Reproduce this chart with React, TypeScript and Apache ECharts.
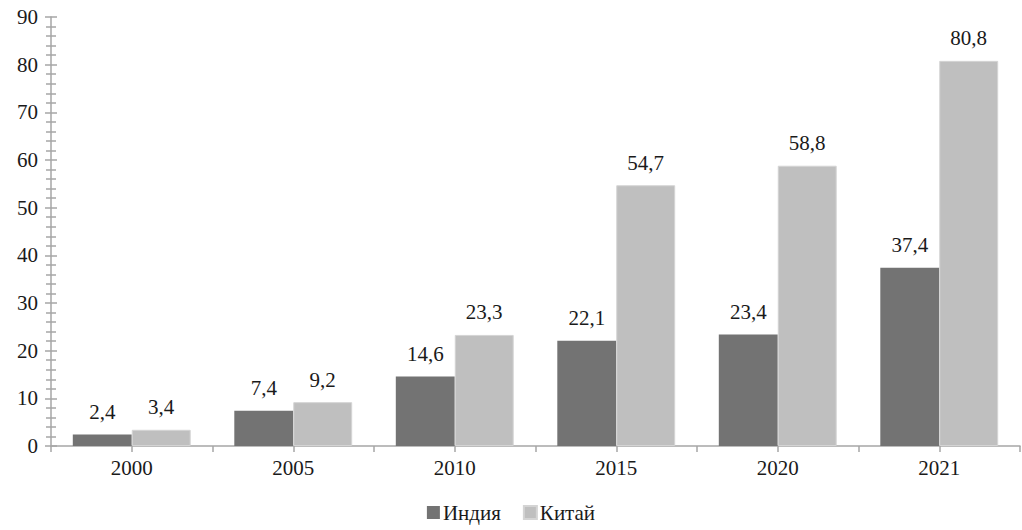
import React, { useEffect, useRef } from "react";
import * as echarts from "echarts";

const categories = ["2000", "2005", "2010", "2015", "2020", "2021"];
const india = [2.4, 7.4, 14.6, 22.1, 23.4, 37.4];
const china = [3.4, 9.2, 23.3, 54.7, 58.8, 80.8];
const seriesNames = ["Индия", "Китай"];

const FONT = "serif";
const FS = 21;

export default function App() {
  const ref = useRef<HTMLDivElement>(null);
  useEffect(() => {
    if (!ref.current) return;
    const chart = echarts.init(ref.current, null, { renderer: "svg" });
    const axisColor = "#a6a6a6";
    const labelFmt = (p: any) => String(p.value).replace(".", ",");
    chart.setOption({
      animation: false,
      backgroundColor: "#ffffff",
      textStyle: { fontFamily: FONT, fontSize: FS },
      grid: { left: 51, right: 2, top: 17, bottom: 84, containLabel: false },
      legend: {
        bottom: 2,
        left: "center",
        icon: "rect",
        itemWidth: 13,
        itemHeight: 13,
        itemGap: 22,
        textStyle: { fontFamily: FONT, fontSize: FS, color: "#1a1a1a", padding: [0, 0, 0, -2] },
        data: seriesNames,
      },
      xAxis: [
        {
          type: "category",
          data: categories,
          axisLine: { show: true, lineStyle: { color: axisColor, width: 1.5 } },
          axisTick: { show: false },
          axisLabel: { fontFamily: FONT, fontSize: FS, color: "#1a1a1a", margin: 11 },
        },
        {
          type: "value",
          min: 0,
          max: 12,
          interval: 1,
          position: "bottom",
          axisLine: { show: false },
          axisTick: { show: true, length: 6, lineStyle: { color: axisColor, width: 1.5 } },
          axisLabel: { show: false },
          splitLine: { show: false },
        },
      ],
      yAxis: [
        {
          type: "value",
          min: 0,
          max: 90,
          interval: 10,
          axisLine: { show: true, lineStyle: { color: axisColor, width: 1.5 } },
          axisTick: { show: true, length: 6, lineStyle: { color: axisColor, width: 1.5 } },
          minorTick: { show: true, splitNumber: 5, length: 5, lineStyle: { color: axisColor, width: 1.5 } },
          axisLabel: { fontFamily: FONT, fontSize: FS, color: "#1a1a1a", margin: 13 },
          splitLine: { show: false },
        },
        {
          type: "value",
          min: 0,
          max: 90,
          interval: 10,
          position: "left",
          axisLine: { show: false },
          axisTick: { show: true, inside: true, length: 6, lineStyle: { color: axisColor, width: 1.5 } },
          minorTick: { show: true, splitNumber: 5, length: 5, lineStyle: { color: axisColor, width: 1.5 } },
          axisLabel: { show: false },
          splitLine: { show: false },
        },
      ],
      series: [
        {
          name: seriesNames[0],
          type: "bar",
          data: india,
          barGap: "0%",
          barCategoryGap: "27%",
          itemStyle: { color: "#737373" },
          label: {
            show: true,
            position: "top",
            distance: 12,
            formatter: labelFmt,
            fontFamily: FONT,
            fontSize: FS,
            color: "#1a1a1a",
          },
        },
        {
          name: seriesNames[1],
          type: "bar",
          data: china,
          barGap: "0%",
          barCategoryGap: "27%",
          itemStyle: { color: "#bfbfbf", borderColor: "#d4d4d4", borderWidth: 1 },
          label: {
            show: true,
            position: "top",
            distance: 12,
            formatter: labelFmt,
            fontFamily: FONT,
            fontSize: FS,
            color: "#1a1a1a",
          },
        },
      ],
    });
    return () => chart.dispose();
  }, []);
  return (
    <div
      ref={ref}
      style={{ position: "absolute", left: 0, top: 0, width: 1022, height: 530 }}
    />
  );
}
